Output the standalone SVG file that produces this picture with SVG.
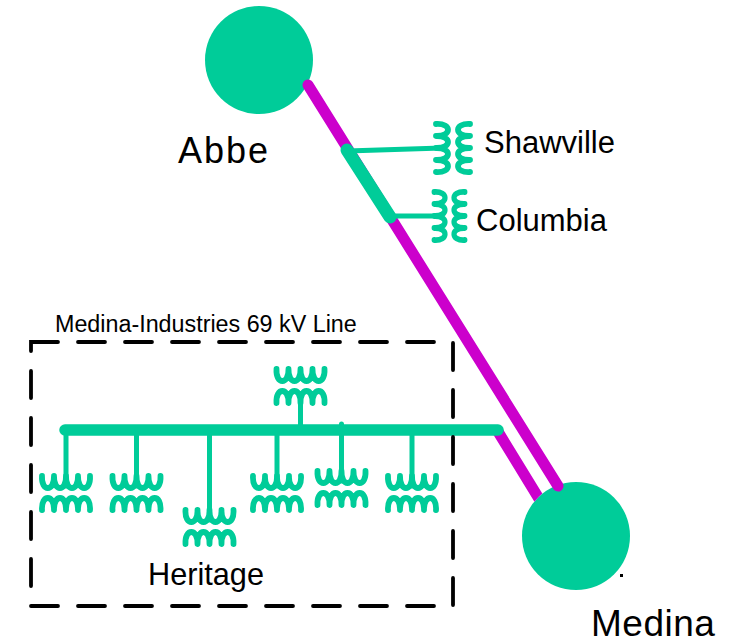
<svg xmlns="http://www.w3.org/2000/svg" width="730" height="644" viewBox="0 0 730 644">
<style>
.t{font-family:"Liberation Sans",Arial,sans-serif;fill:#000}
.n{fill:#00cc99}
.c{fill:none;stroke:#00cc99;stroke-width:5.800;stroke-linecap:round;stroke-linejoin:round}
.m{fill:none;stroke:#cc00cc;stroke-width:11;stroke-linecap:round}
.g{fill:none;stroke:#00cc99;stroke-linecap:round}
</style>
<defs>
<g id="xf">
<path class="c" d="M-24,-17C-25,-1 -11.500,-1 -12,-17C-12.500,-1 .5,-1 0,-17C-.5,-1 12.500,-1 12,-17C11.500,-1 25,-1 24,-17"/>
<path class="c" d="M-24,17C-25,1 -11.500,1 -12,17C-12.500,1 .5,1 0,17C-.5,1 12.500,1 12,17C11.500,1 25,1 24,17"/>
</g>
</defs>
<g id="abbe"><circle class="n" cx="259" cy="60" r="54"/><text class="t" x="178" y="163" font-size="36" letter-spacing="2">Abbe</text></g>
<g id="medina"><circle class="n" cx="576" cy="536" r="54"/><rect x="620" y="574" width="3" height="3" fill="#000"/><text class="t" x="591" y="636" font-size="37" letter-spacing=".5">Medina</text></g>
<g id="shawville"><use href="#xf" transform="translate(453,148) rotate(-90)"/><text class="t" x="484" y="153" font-size="31">Shawville</text></g>
<g id="columbia"><use href="#xf" transform="translate(449.500,216) rotate(-90) scale(1,.9)"/><text class="t" x="476" y="231" font-size="31">Columbia</text></g>
<g id="t1"><use href="#xf" transform="translate(66,493)"/></g>
<g id="t2"><use href="#xf" transform="translate(136.500,493)"/></g>
<g id="heritage"><use href="#xf" transform="translate(209.500,527)"/><text class="t" x="148" y="585" font-size="30.700">Heritage</text></g>
<g id="t4"><use href="#xf" transform="translate(277,493)"/></g>
<g id="t5"><use href="#xf" transform="translate(341.500,488)"/></g>
<g id="t6"><use href="#xf" transform="translate(412,493)"/></g>
<g id="t7"><use href="#xf" transform="translate(300.500,386)"/></g>
<g id="connectors">
<path d="M501.700,427.100L542.300,493.400A54,54 0 0 0 534.400,501.700L492.300,432.900Z" fill="#cc00cc"/>
<path class="m" d="M308,85L558,486"/>
<path class="g" stroke-width="13" d="M347,150L390,217"/>
<path class="g" stroke-width="5" d="M347,151L442,148M390,216L442,216"/>
<path class="g" stroke-width="11.500" d="M65,430H498"/>
<path class="g" stroke-width="5" d="M66,430V486M136.500,430V486M209.500,430V520M277,430V486M341.500,424V481M412,430V486M300.500,428V395"/>
</g>
<g id="box"><rect x="31" y="342" width="422" height="264" fill="none" stroke="#000" stroke-width="3.800" stroke-linecap="round" stroke-dasharray="27 20"/></g>
<text id="line-label" class="t" x="55" y="332" font-size="23.300">Medina-Industries 69 kV Line</text>
</svg>
